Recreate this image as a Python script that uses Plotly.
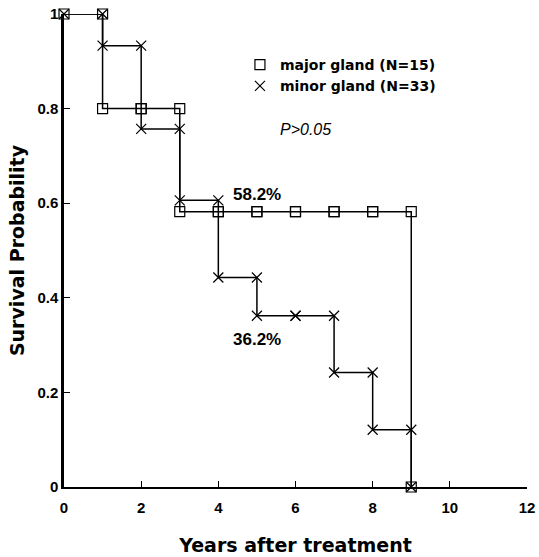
import plotly.graph_objects as go

# Data: survival level on each one-year interval [k, k+1)
interval_start = [0, 1, 2, 3, 4, 5, 6, 7, 8]
surv_major = [1.0, 0.8, 0.8, 0.582, 0.582, 0.582, 0.582, 0.582, 0.582]
surv_minor = [1.0, 0.933, 0.757, 0.606, 0.443, 0.362, 0.362, 0.242, 0.121]
end_year = 9
end_surv = 0.0

x_ticks = [0, 2, 4, 6, 8, 10, 12]
x_ticklabels = ["0", "2", "4", "6", "8", "10", "12"]
y_ticks = [0, 0.2, 0.4, 0.6, 0.8, 1]
y_ticklabels = ["0", "0.2", "0.4", "0.6", "0.8", "1"]

FONT = "Liberation Sans, Arial, Helvetica, sans-serif"
WIDE = "DejaVu Sans, Verdana, sans-serif"


def step_line(starts, vals):
    xs = list(starts) + [end_year, end_year]
    ys = list(vals) + [vals[-1], end_surv]
    return xs, ys


def marker_pts(starts, vals):
    xs, ys = [], []
    for k, v in zip(starts, vals):
        xs += [k, k + 1]
        ys += [v, v]
    xs.append(end_year)
    ys.append(end_surv)
    return xs, ys


fig = go.Figure()

for vals, sym, name in [
    (surv_major, "square-open", "<b>major gland (N=15)</b>"),
    (surv_minor, "x-thin-open", "<b>minor gland (N=33)</b>"),
]:
    lx, ly = step_line(interval_start, vals)
    fig.add_trace(go.Scatter(x=lx, y=ly, mode="lines", line=dict(color="black", width=1.5, shape="hv"),
                             showlegend=False, hoverinfo="skip", cliponaxis=False))
    mx, my = marker_pts(interval_start, vals)
    fig.add_trace(go.Scatter(x=mx, y=my, mode="markers",
                             marker=dict(symbol=sym, size=10, color="black", line=dict(width=1.2, color="black")),
                             name=name, showlegend=True, cliponaxis=False))

fig.update_layout(
    width=539, height=557,
    margin=dict(l=64, r=12, t=14, b=70, autoexpand=False),
    plot_bgcolor="white", paper_bgcolor="white",
    font=dict(family=FONT, color="black"),
    legend=dict(x=0.38, y=0.926, xanchor="left", yanchor="top",
                font=dict(size=14, family=WIDE, color="black"),
                bgcolor="rgba(0,0,0,0)", itemwidth=30, tracegroupgap=0),
    xaxis=dict(range=[0, 12], tickvals=x_ticks, ticktext=["<b>%s</b>" % t for t in x_ticklabels],
               ticks="inside", ticklen=6, tickwidth=1.2, automargin=False,
               tickcolor="black", showline=True, linecolor="black", linewidth=2, showgrid=False,
               zeroline=False, mirror=False, ticklabelstandoff=6,
               tickfont=dict(size=15, family=FONT, color="black"),
               title=dict(text="<b>Years after treatment</b>", font=dict(size=19, family=WIDE), standoff=24)),
    yaxis=dict(range=[0, 1], tickvals=y_ticks, ticktext=["<b>%s</b>" % t for t in y_ticklabels],
               ticks="inside", ticklen=6, automargin=False,
               tickwidth=1.2, tickcolor="black", showline=True, linecolor="black", linewidth=2.5,
               showgrid=False, zeroline=False,
               tickfont=dict(size=15, family=FONT, color="black"),
               title=dict(text="<b>Survival Probability</b>", font=dict(size=19, family=WIDE), standoff=8)),
)

fig.add_annotation(x=0.462, y=0.777, xref="paper", yref="paper", text="<i>P>0.05</i>",
                   showarrow=False, xanchor="left", font=dict(size=16, family=FONT))
fig.add_annotation(x=4.33, y=0.619, text="<b>58.2%</b>", showarrow=False, xanchor="left",
                   font=dict(size=17, family=FONT))
fig.add_annotation(x=4.33, y=0.311, text="<b>36.2%</b>", showarrow=False, xanchor="left",
                   font=dict(size=17, family=FONT))

fig.write_html("out.html")
